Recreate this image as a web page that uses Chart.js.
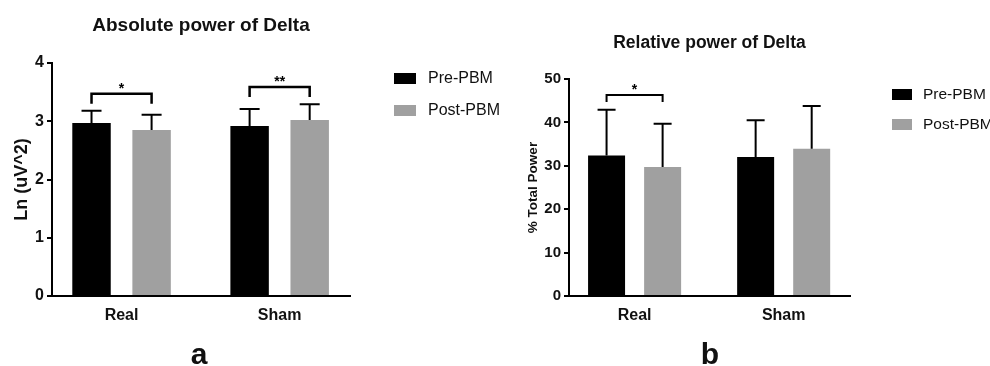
<!DOCTYPE html>
<html>
<head>
<meta charset="utf-8">
<script src="https://cdn.jsdelivr.net/npm/chart.js@4.4.0/dist/chart.umd.min.js"></script>
<style>
	body { margin: 0; background: #fff; width: 990px; height: 366px; position: relative; overflow: hidden; font-family: 'Liberation Sans', Arial, sans-serif; color: #111; }
	canvas { position: absolute; top: 0; }
	#abs-chart { left: 0; }
	#rel-chart { left: 490px; }
	.legend { position: absolute; left: 0; top: 0; }
	.legend .box { position: absolute; }
	.legend .txt { position: absolute; line-height: 20px; white-space: nowrap; }
	.panel-letter { position: absolute; width: 60px; text-align: center; font-weight: bold; font-size: 30px; line-height: 30px; }
</style>
</head>
<body>
<canvas id="abs-chart" width="400" height="366"></canvas>
<canvas id="rel-chart" width="440" height="366"></canvas>
<div id="legend-a" class="legend"></div>
<div id="legend-b" class="legend"></div>
<div class="panel-letter" style="left:169px; top:339px;">a</div>
<div class="panel-letter" style="left:680px; top:339px;">b</div>

<script>
const groups = ['Real', 'Sham'];
const seriesNames = ['Pre-PBM', 'Post-PBM'];
const seriesColors = ['#000000', '#a0a0a0'];

// panel a - absolute power (ln uV^2), mean and SD
const absPre = [2.97, 2.92];
const absPost = [2.85, 3.02];
const absPreSd = [0.21, 0.29];
const absPostSd = [0.26, 0.27];
const absBracketGroups = [0, 1];
const absBracketLevels = [3.47, 3.59];
const absBracketLabels = ['*', '**'];

// panel b - relative power (% total), mean and SD
const relPre = [32.4, 32.0];
const relPost = [29.7, 33.9];
const relPreSd = [10.5, 8.5];
const relPostSd = [10.0, 9.9];
const relBracketGroups = [0];
const relBracketLevels = [46.3];
const relBracketLabels = ['*'];

Chart.defaults.font.family = "'Liberation Sans', Arial, sans-serif";
Chart.defaults.color = '#111';

// error bars (upper only) + significance brackets
const extrasPlugin = {
	id: 'extras',
	afterDatasetsDraw(chart, args, opts) {
		const ctx = chart.ctx;
		const y = chart.scales.y;
		ctx.save();
		ctx.strokeStyle = '#000';
		ctx.fillStyle = '#000';
		ctx.lineWidth = 2;
		opts.sd.forEach((sdArr, di) => {
			const meta = chart.getDatasetMeta(di);
			meta.data.forEach((bar, i) => {
				const mean = chart.data.datasets[di].data[i].y;
				const top = y.getPixelForValue(mean + sdArr[i]);
				ctx.beginPath();
				ctx.moveTo(bar.x, bar.y);
				ctx.lineTo(bar.x, top);
				ctx.moveTo(bar.x - opts.cap / 2, top);
				ctx.lineTo(bar.x + opts.cap / 2, top);
				ctx.stroke();
			});
		});
		ctx.lineWidth = opts.bracketWidth;
		ctx.textAlign = 'center';
		ctx.textBaseline = 'alphabetic';
		ctx.font = 'bold 14px ' + Chart.defaults.font.family;
		opts.bracketGroups.forEach((g, k) => {
			const x1 = chart.getDatasetMeta(0).data[g].x;
			const x2 = chart.getDatasetMeta(1).data[g].x;
			const yp = y.getPixelForValue(opts.bracketLevels[k]);
			ctx.beginPath();
			ctx.moveTo(x1, yp + opts.leg);
			ctx.lineTo(x1, yp);
			ctx.lineTo(x2, yp);
			ctx.lineTo(x2, yp + opts.leg);
			ctx.stroke();
			ctx.fillText(opts.bracketLabels[k], (x1 + x2) / 2, yp - 1);
		});
		ctx.restore();
	}
};

function makeChart(canvas, cfg) {
	const toPoints = arr => arr.map((v, i) => ({x: i, y: v}));
	return new Chart(canvas, {
		type: 'bar',
		data: {
			datasets: [
				{label: seriesNames[0], data: toPoints(cfg.pre), backgroundColor: seriesColors[0]},
				{label: seriesNames[1], data: toPoints(cfg.post), backgroundColor: seriesColors[1]}
			]
		},
		options: {
			responsive: false,
			animation: false,
			categoryPercentage: cfg.catPct,
			barPercentage: cfg.barPct,
			layout: {padding: {left: 0, right: cfg.padRight, top: 0, bottom: 0}},
			scales: {
				x: {
					type: 'linear',
					offset: false,
					min: -0.44,
					max: 1.445,
					afterBuildTicks: s => { s.ticks = groups.map((g, i) => ({value: i})); },
					afterFit: s => { s.height = 70; },
					ticks: {
						callback: v => groups[v],
						padding: 10,
						font: {size: 16, weight: 'bold'},
						color: '#111'
					},
					grid: {display: false, drawTicks: false},
					border: {display: true, color: '#000', width: 2}
				},
				y: {
					min: 0,
					max: cfg.yMax,
					afterFit: s => { s.width = cfg.yWidth; },
					ticks: {
						stepSize: cfg.yStep,
						padding: 3,
						font: {size: cfg.tickSize, weight: 'bold'},
						color: '#111'
					},
					grid: {drawOnChartArea: false, drawTicks: true, tickLength: 5, color: '#000', lineWidth: 2},
					border: {display: true, color: '#000', width: 2},
					title: {
						display: true,
						text: cfg.yTitle,
						font: {size: cfg.yTitleSize, weight: 'bold'},
						color: '#111',
						padding: {top: cfg.yTitlePad, bottom: 0}
					}
				}
			},
			plugins: {
				legend: {display: false},
				tooltip: {enabled: false},
				title: {
					display: true,
					text: cfg.title,
					fullSize: false,
					font: {size: cfg.titleSize, weight: 'bold'},
					color: '#111',
					padding: {top: cfg.titlePadTop, bottom: cfg.titlePadBottom}
				},
				extras: {
					sd: [cfg.preSd, cfg.postSd],
					cap: cfg.cap,
					bracketGroups: cfg.bracketGroups,
					bracketLevels: cfg.bracketLevels,
					bracketLabels: cfg.bracketLabels,
					bracketWidth: cfg.bracketWidth,
					leg: cfg.leg
				}
			}
		},
		plugins: [extrasPlugin]
	});
}

const absChart = makeChart(document.getElementById('abs-chart'), {
	pre: absPre, post: absPost, preSd: absPreSd, postSd: absPostSd,
	bracketGroups: absBracketGroups, bracketLevels: absBracketLevels, bracketLabels: absBracketLabels,
	title: 'Absolute power of Delta', titleSize: 19, titlePadTop: 14.6, titlePadBottom: 25.6,
	yTitle: 'Ln (uV^2)', yTitleSize: 18, yTitlePad: 11.2,
	yMax: 4, yStep: 1, yWidth: 52, tickSize: 16, padRight: 50,
	catPct: 0.76, barPct: 0.64, cap: 20, bracketWidth: 2.5, leg: 10
});

const relChart = makeChart(document.getElementById('rel-chart'), {
	pre: relPre, post: relPost, preSd: relPreSd, postSd: relPostSd,
	bracketGroups: relBracketGroups, bracketLevels: relBracketLevels, bracketLabels: relBracketLabels,
	title: 'Relative power of Delta', titleSize: 17.5, titlePadTop: 32.5, titlePadBottom: 25.5,
	yTitle: '% Total Power', yTitleSize: 13.5, yTitlePad: 34.9,
	yMax: 50, yStep: 10, yWidth: 79, tickSize: 15, padRight: 80,
	catPct: 0.752, barPct: 0.66, cap: 18, bracketWidth: 2, leg: 7
});

// html legends built from the series names
function buildLegend(el, x, rows, boxW, boxH, textX, fontSize) {
	el.innerHTML = seriesNames.map((name, i) => `
		<div class="box" style="left:${x}px; top:${rows[i] - boxH / 2}px; width:${boxW}px; height:${boxH}px; background:${seriesColors[i]};"></div>
		<div class="txt" style="left:${textX}px; top:${rows[i] - 10}px; font-size:${fontSize}px;">${name}</div>
	`).join('');
}
buildLegend(document.getElementById('legend-a'), 394, [78, 110], 22, 11, 428, 16);
buildLegend(document.getElementById('legend-b'), 892, [94, 124], 20, 11, 923, 15.5);
</script>
</body>
</html>
